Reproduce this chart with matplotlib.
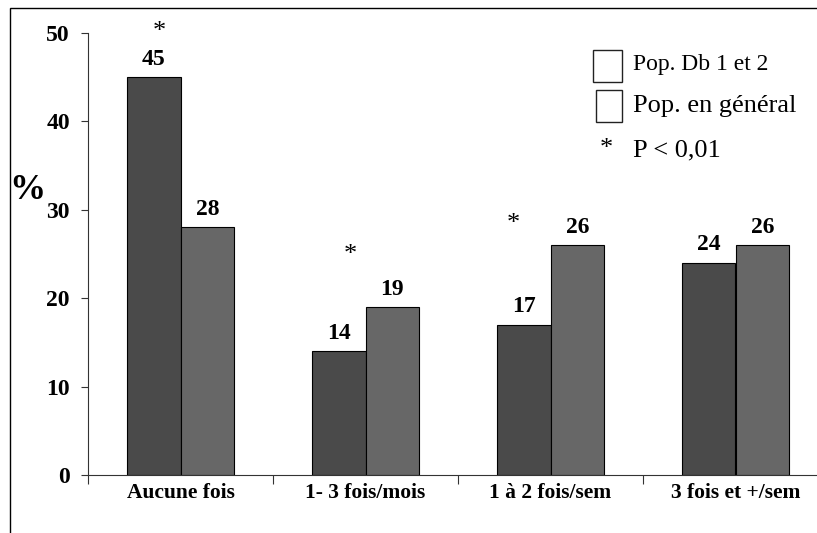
import numpy as np
import matplotlib
matplotlib.use('Agg')
from matplotlib import pyplot as plt
from matplotlib import patches

# catégories et valeurs (%)
CATEGORIES = ['Aucune fois', '1- 3 fois/mois', '1 à 2 fois/sem', '3 fois et +/sem']
POP_DB = [45, 14, 17, 24]
POP_GEN = [28, 19, 26, 26]
# astérisques (position x relative au groupe, hauteur)
STARS_X = [-0.116, 0.92, 1.80]
STARS_Y = [50.1, 24.9, 28.4]
LEGEND = ['Pop. Db 1 et 2', 'Pop. en général', 'P < 0,01']

W, H = 817, 533
DARK = '#4a4a4a'
LIGHT = '#676767'

plt.rcParams['font.family'] = ['Liberation Serif', 'DejaVu Serif']

fig = plt.figure(figsize=(W / 100, H / 100), dpi=100)
ax = fig.add_axes([88 / W, 58 / H, (W - 88) / W, 442 / H])

x = np.arange(len(CATEGORIES))
bw = 0.29
b1 = ax.bar(x - bw / 2, POP_DB, bw, color=DARK, edgecolor='black', linewidth=0.8)
b2 = ax.bar(x + bw / 2, POP_GEN, bw, color=LIGHT, edgecolor='black', linewidth=0.8)

for bars, vals in ((b1, POP_DB), (b2, POP_GEN)):
    for r, v in zip(bars, vals):
        ax.annotate(str(v), (r.get_x() + r.get_width() / 2, v), xytext=(0, 9),
                    textcoords='offset points', ha='center', va='baseline',
                    fontsize=17, fontweight='bold')

for sx, sy in zip(STARS_X, STARS_Y):
    ax.text(sx, sy, '*', ha='center', va='center', fontsize=19, clip_on=False)

ax.set_xlim(-0.5, (W - 88) / 185 - 0.5)
ax.set_ylim(0, 50)

for s in ('top', 'right'):
    ax.spines[s].set_visible(False)
ax.spines['left'].set_color('#333333')
ax.spines['bottom'].set_color('#333333')
ax.spines['left'].set_linewidth(0.8)
ax.spines['bottom'].set_linewidth(0.8)

ax.set_yticks([0, 10, 20, 30, 40, 50])
ax.tick_params(axis='y', direction='out', length=5, width=0.8, color='#333333',
               pad=8, labelsize=17)
for lab in ax.get_yticklabels():
    lab.set_fontweight('bold')

ax.set_xticks(x)
ax.set_xticklabels(CATEGORIES, fontsize=15.5, fontweight='bold')
ax.tick_params(axis='x', which='major', length=0, pad=6)
ax.set_xticks(np.arange(len(CATEGORIES)) - 0.5, minor=True)
ax.tick_params(axis='x', which='minor', direction='out', length=6.5, width=0.8,
               color='#333333')

fig.text(27 / W, 1 - 190 / H, '%', ha='center', va='center', fontsize=26,
         fontweight='bold')

# légende
fig.add_artist(patches.Rectangle((593 / W, 1 - 82 / H), 29 / W, 32 / H,
                                 transform=fig.transFigure, facecolor='white',
                                 edgecolor='#222222', linewidth=1))
fig.add_artist(patches.Rectangle((596 / W, 1 - 122 / H), 26 / W, 32 / H,
                                 transform=fig.transFigure, facecolor='white',
                                 edgecolor='#222222', linewidth=1))
fig.text(633 / W, 1 - 64 / H, LEGEND[0], ha='left', va='center', fontsize=17)
fig.text(633 / W, 1 - 106 / H, LEGEND[1], ha='left', va='center', fontsize=19)
fig.text(606 / W, 1 - 149 / H, '*', ha='center', va='center', fontsize=19)
fig.text(633 / W, 1 - 150 / H, LEGEND[2], ha='left', va='center', fontsize=19)

# cadre de la figure (bords gauche et haut)
fig.add_artist(patches.Rectangle((10 / W, -0.1), 1.2, 1 - 8 / H + 0.1,
                                 transform=fig.transFigure, facecolor='none',
                                 edgecolor='black', linewidth=1))

fig.savefig('out.png', dpi=100)
